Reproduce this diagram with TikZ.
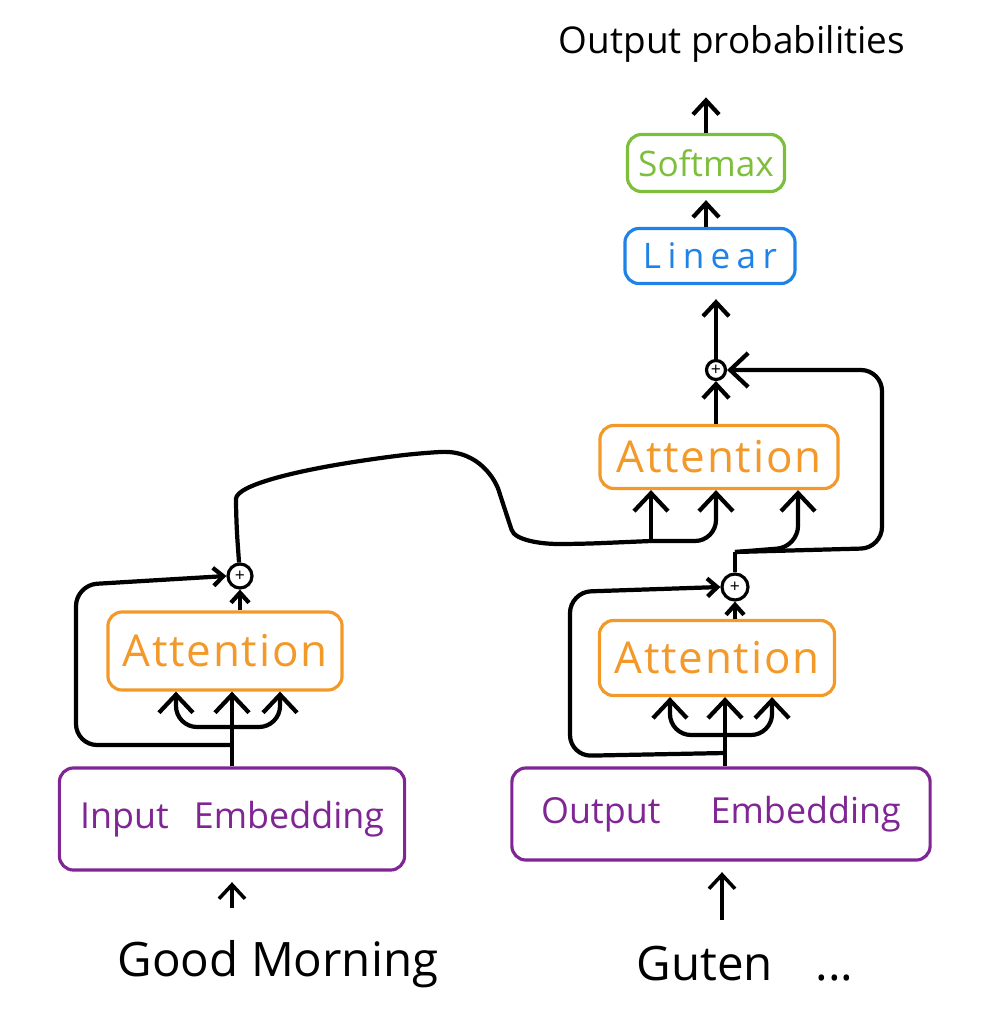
\documentclass[tikz,border=0pt]{standalone}
\usepackage{fontspec}
\setmainfont{Open Sans}
\usetikzlibrary{arrows.meta}
\definecolor{attcol}{RGB}{242,153,42}
\definecolor{embcol}{RGB}{128,38,148}
\definecolor{lincol}{RGB}{30,130,230}
\definecolor{softcol}{RGB}{125,190,60}

\begin{document}
\begin{tikzpicture}
[x=0.01cm,y=-0.01cm,line width=1.2pt,>={Straight Barb[length=1.4mm,width=2.6mm]},
block/.style = {draw, rounded corners=4pt, line width=0.9pt, inner sep=0pt},
att/.style = {block, draw=attcol, text=attcol, font=\fontsize{12.5}{15}\selectfont\addfontfeature{LetterSpace=4}},
emb/.style = {block, draw=embcol, text=embcol, font=\fontsize{10.2}{12}\selectfont},
plus/.style = {draw, circle, inner sep=0pt, minimum size=0.24cm, line width=0.9pt, font=\fontsize{5}{5}\selectfont},
word/.style = {font=\fontsize{13.5}{16}\selectfont},
big/.style = {-{Straight Barb[length=1.8mm,width=3.4mm]}},
small/.style = {-{Straight Barb[length=1mm,width=1.8mm]}},]
\useasboundingbox (0,0) rectangle (1000,1018);
\node (outp) at (732,44) [font=\fontsize{10.5}{12}\selectfont] {Output probabilities};
\node (soft) at (706,163) [block, draw=softcol, text=softcol, minimum width=1.57cm, minimum height=0.57cm, font=\fontsize{10}{12}\selectfont] {Softmax};
\node (lin) at (710,256) [block, draw=lincol, text=lincol, minimum width=1.7cm, minimum height=0.55cm, font=\fontsize{10}{12}\selectfont\addfontfeature{LetterSpace=18}] {Linear};
\node (plusT) at (716,370) [plus, minimum size=0.19cm] {+};
\node (attT) at (719,457) [att, minimum width=2.38cm, minimum height=0.63cm] {Attention};
\node (attL) at (225,651) [att, minimum width=2.34cm, minimum height=0.78cm] {Attention};
\node (plusL) at (240,576) [plus] {+};
\node (embL) at (232,819) [emb, minimum width=3.45cm, minimum height=1.02cm] {Input\hspace{0.7em}Embedding};
\node (good) at (278,964) [word] {Good Morning};
\node (attR) at (717,658) [att, minimum width=2.35cm, minimum height=0.75cm] {Attention};
\node (plusR) at (735,587) [plus, minimum size=0.26cm] {+};
\node (embR) at (721,814) [emb, minimum width=4.18cm, minimum height=0.92cm] {Output\hspace{1.4em}Embedding};
\node (guten) at (745,964) [word] {Guten\hspace{0.9em}...};
\coordinate (inL) at (232,908);
\coordinate (inR) at (722,920);
\coordinate (brL) at (232,727);
\coordinate (resL) at (232,745);
\coordinate (brR) at (725,735);
\coordinate (resR) at (725,753);
\coordinate (jT) at (651,541);
\coordinate (jR) at (735,552);
% inputs
\draw[->,line width=1pt,shorten >=3pt] (inL) -- (inL |- embL.south);
\draw[->,line width=1pt,shorten >=3pt] (inR) -- (inR |- embR.south);
% encoder
\draw[big] (embL.north) -- (embL.north |- attL.south);
\draw[big,rounded corners=6pt] (brL) -| ([xshift=-0.49cm]attL.south);
\draw[big,rounded corners=6pt] (brL) -| ([xshift=0.55cm]attL.south);
\draw[small,rounded corners=6pt] (resL) -- (76,745) -- (76,585) -- (plusL.west);
\draw[small] (attL.north -| plusL) -- (plusL);
% encoder to decoder
\draw[rounded corners=6pt] (plusL) -- (236,520) .. controls (236,485) and (300,468) .. (420,453) .. controls (480,450) and (496,482) .. (505,510) .. controls (515,540) and (540,544) .. (580,544) -- (jT);
\draw[big] (jT) -- (jT |- attT.south);
\draw[big,rounded corners=6pt] (jT) -| ([xshift=-0.03cm]attT.south);
% decoder
\draw[big] (embR.north -| brR) -- (brR |- attR.south);
\draw[big,rounded corners=6pt] (brR) -| ([xshift=-0.47cm]attR.south);
\draw[big,rounded corners=6pt] (brR) -| ([xshift=0.55cm]attR.south);
\draw[small,rounded corners=6pt] (resR) -- (570,756) -- (570,592) -- (plusR.west);
\draw[small] (attR.north -| plusR) -- (plusR);
\draw (plusR) -- (jR);
\draw[big,rounded corners=6pt] (jR) -- (798,547) -- ([xshift=0.79cm]attT.south);
\draw[big,rounded corners=6pt] (jR) -- (882,548) -- (882,370) -- (plusT.east);
% output
\draw[->] (attT.north -| plusT) -- (plusT);
\draw[->,shorten >=4pt] (plusT) -- (plusT |- lin.south);
\draw[->,shorten >=2pt] (lin.north -| soft) -- (soft);
\draw[->,shorten >=6pt] (soft) -- (soft |- outp.south);
\end{tikzpicture}
\end{document}
